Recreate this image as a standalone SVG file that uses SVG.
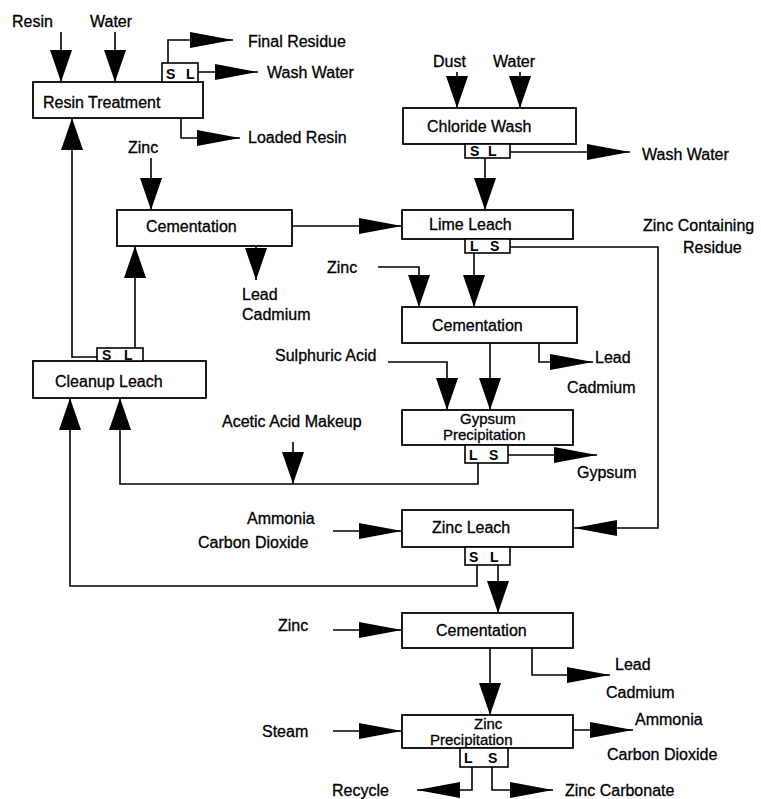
<svg xmlns="http://www.w3.org/2000/svg" width="761" height="799" viewBox="0 0 761 799">
<style>
.box{fill:#fff;stroke:#000;stroke-width:1.8}
.sl{fill:#fff;stroke:#000;stroke-width:1.6}
.t{font-family:"Liberation Sans",Arial,sans-serif;font-size:16px;fill:#000;stroke:#000;stroke-width:0.3}
.s{font-family:"Liberation Sans",Arial,sans-serif;font-size:14px;font-weight:bold;fill:#000}
.n{font-size:15px}
.c path{fill:none;stroke:#000;stroke-width:1.6}
.v{marker-end:url(#a)}
.h{marker-end:url(#b)}
</style>
<defs>
<marker id="a" markerUnits="userSpaceOnUse" viewBox="0 0 32 22" markerWidth="32" markerHeight="22" refX="32" refY="11" orient="auto"><path d="M0,0 L32,11 L0,22 z" fill="#000"/></marker>
<marker id="b" markerUnits="userSpaceOnUse" viewBox="0 0 43 16" markerWidth="43" markerHeight="16" refX="43" refY="8" orient="auto"><path d="M0,0 L43,8 L0,16 z" fill="#000"/></marker>
</defs>
<rect width="761" height="799" fill="#fff"/>

<g id="connectors" class="c">
<path class="v" d="M61 32 V82"/>
<path class="v" d="M115 32 V82"/>
<path class="h" d="M168 63 V40 H233"/>
<path class="h" d="M198 72 H258"/>
<path class="h" d="M181 118 V138 H240"/>
<path class="v" d="M457 72 V108"/>
<path class="v" d="M520 72 V108"/>
<path class="h" d="M510 152 H630"/>
<path class="v" d="M485 158 V210"/>
<path class="h" d="M292 226 H402"/>
<path class="v" d="M151 158 V210"/>
<path class="v" d="M256 246 V280"/>
<path class="v" d="M378 267 H419 V307"/>
<path class="v" d="M474 253 V307"/>
<path class="h" d="M510 247 H658 V528 H574"/>
<path class="v" d="M490 343 V410"/>
<path class="v" d="M388 362 H447 V410"/>
<path class="h" d="M539 343 V362 H593"/>
<path class="h" d="M508 455 H597"/>
<path class="v" d="M478 463 V484 H120 V398"/>
<path class="v" d="M293 442 V484"/>
<path class="h" d="M333 531 H402"/>
<path class="v" d="M477 565 V586 H70 V398"/>
<path class="v" d="M498 565 V613"/>
<path class="h" d="M333 630 H402"/>
<path class="h" d="M532 648 V675 H610"/>
<path class="v" d="M490 648 V715"/>
<path class="h" d="M333 731 H402"/>
<path class="h" d="M573 730 H633"/>
<path class="h" d="M472 767 V790 H417"/>
<path class="h" d="M492 767 V790 H553"/>
<path class="v" d="M97 357 H72 V118"/>
<path class="v" d="M135 348 V246"/>
</g>

<g id="resin-treatment">
<rect class="box" x="33" y="82" width="170" height="36"/>
<text class="t" x="43" y="108">Resin Treatment</text>
<rect class="sl" x="162" y="63" width="36" height="19"/>
<text class="s" x="166" y="79">S</text><text class="s" x="186" y="79">L</text>
</g>
<g id="chloride-wash">
<rect class="box" x="403" y="108" width="173" height="36"/>
<text class="t" x="427" y="132">Chloride Wash</text>
<rect class="sl" x="465" y="144" width="45" height="14"/>
<text class="s" x="470" y="156">S</text><text class="s" x="488" y="156">L</text>
</g>
<g id="cementation-1">
<rect class="box" x="117" y="210" width="175" height="36"/>
<text class="t" x="146" y="232">Cementation</text>
</g>
<g id="lime-leach">
<rect class="box" x="402" y="210" width="171" height="29"/>
<text class="t" x="429" y="230">Lime Leach</text>
<rect class="sl" x="465" y="239" width="45" height="14"/>
<text class="s" x="470" y="251">L</text><text class="s" x="490" y="251">S</text>
</g>
<g id="cementation-2">
<rect class="box" x="402" y="307" width="175" height="36"/>
<text class="t" x="432" y="331">Cementation</text>
</g>
<g id="gypsum-precipitation">
<rect class="box" x="402" y="410" width="171" height="35"/>
<text class="t n" x="460" y="424">Gypsum</text>
<text class="t n" x="443" y="440">Precipitation</text>
<rect class="sl" x="465" y="445" width="43" height="18"/>
<text class="s" x="469" y="460">L</text><text class="s" x="489" y="460">S</text>
</g>
<g id="cleanup-leach">
<rect class="box" x="33" y="361" width="173" height="37"/>
<text class="t" x="55" y="387">Cleanup Leach</text>
<rect class="sl" x="97" y="348" width="46" height="13"/>
<text class="s" x="102" y="360">S</text><text class="s" x="124" y="360">L</text>
</g>
<g id="zinc-leach">
<rect class="box" x="402" y="510" width="171" height="37"/>
<text class="t" x="432" y="533">Zinc Leach</text>
<rect class="sl" x="465" y="547" width="45" height="18"/>
<text class="s" x="469" y="562">S</text><text class="s" x="490" y="562">L</text>
</g>
<g id="cementation-3">
<rect class="box" x="402" y="613" width="171" height="35"/>
<text class="t" x="436" y="636">Cementation</text>
</g>
<g id="zinc-precipitation">
<rect class="box" x="402" y="715" width="171" height="33"/>
<text class="t n" x="474" y="729">Zinc</text>
<text class="t n" x="430" y="745">Precipitation</text>
<rect class="sl" x="460" y="748" width="48" height="19"/>
<text class="s" x="464" y="763">L</text><text class="s" x="488" y="763">S</text>
</g>

<g id="labels">
<text class="t" x="12" y="27">Resin</text>
<text class="t" x="90" y="27">Water</text>
<text class="t" x="248" y="47">Final Residue</text>
<text class="t" x="267" y="78">Wash Water</text>
<text class="t" x="248" y="143">Loaded Resin</text>
<text class="t" x="433" y="67">Dust</text>
<text class="t" x="493" y="67">Water</text>
<text class="t" x="642" y="160">Wash Water</text>
<text class="t" x="128" y="153">Zinc</text>
<text class="t" x="242" y="300">Lead</text>
<text class="t" x="242" y="320">Cadmium</text>
<text class="t" x="327" y="273">Zinc</text>
<text class="t" x="643" y="231">Zinc Containing</text>
<text class="t" x="683" y="253">Residue</text>
<text class="t" x="275" y="361">Sulphuric Acid</text>
<text class="t" x="595" y="363">Lead</text>
<text class="t" x="567" y="393">Cadmium</text>
<text class="t" x="222" y="427">Acetic Acid Makeup</text>
<text class="t" x="577" y="478">Gypsum</text>
<text class="t" x="247" y="524">Ammonia</text>
<text class="t" x="198" y="548">Carbon Dioxide</text>
<text class="t" x="278" y="631">Zinc</text>
<text class="t" x="615" y="670">Lead</text>
<text class="t" x="606" y="698">Cadmium</text>
<text class="t" x="262" y="737">Steam</text>
<text class="t" x="635" y="725">Ammonia</text>
<text class="t" x="607" y="760">Carbon Dioxide</text>
<text class="t" x="332" y="796">Recycle</text>
<text class="t" x="565" y="796">Zinc Carbonate</text>
</g>
</svg>
